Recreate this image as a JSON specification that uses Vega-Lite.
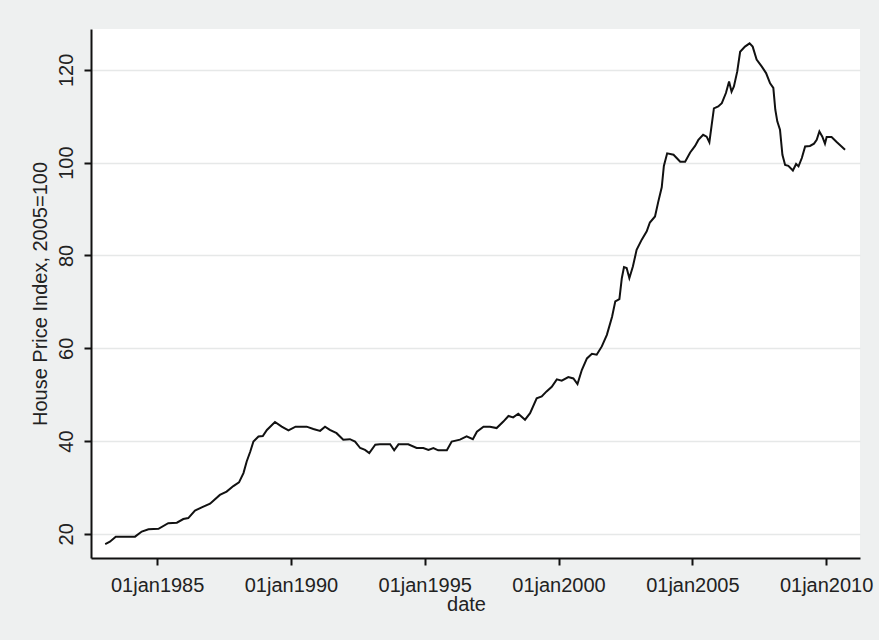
{
  "$schema": "https://vega.github.io/schema/vega-lite/v6.json",
  "width": 769,
  "height": 529,
  "autosize": {"type": "none"},
  "padding": {"left": 91, "top": 29, "right": 19, "bottom": 82},
  "background": "#eef0f0",
  "config": {
    "view": {"fill": "white", "stroke": null},
    "font": "Liberation Sans"
  },
  "data": {
    "values": [
      {"date": "1983/01/23", "hpi": 17.8},
      {"date": "1983/03/28", "hpi": 18.3},
      {"date": "1983/06/16", "hpi": 19.4},
      {"date": "1984/03/05", "hpi": 19.4},
      {"date": "1984/06/05", "hpi": 20.5},
      {"date": "1984/09/05", "hpi": 21.0},
      {"date": "1985/01/19", "hpi": 21.1},
      {"date": "1985/06/01", "hpi": 22.3},
      {"date": "1985/09/27", "hpi": 22.4},
      {"date": "1985/12/24", "hpi": 23.2},
      {"date": "1986/03/02", "hpi": 23.4},
      {"date": "1986/06/01", "hpi": 25.0},
      {"date": "1986/09/01", "hpi": 25.7},
      {"date": "1986/12/24", "hpi": 26.5},
      {"date": "1987/05/07", "hpi": 28.4},
      {"date": "1987/08/07", "hpi": 29.1},
      {"date": "1987/11/07", "hpi": 30.3},
      {"date": "1988/01/23", "hpi": 31.1},
      {"date": "1988/03/24", "hpi": 33.1},
      {"date": "1988/05/07", "hpi": 35.6},
      {"date": "1988/06/24", "hpi": 37.7},
      {"date": "1988/08/07", "hpi": 39.9},
      {"date": "1988/10/15", "hpi": 41.0},
      {"date": "1988/12/13", "hpi": 41.1},
      {"date": "1989/02/07", "hpi": 42.4},
      {"date": "1989/05/28", "hpi": 44.1},
      {"date": "1989/08/28", "hpi": 43.1},
      {"date": "1989/11/28", "hpi": 42.3},
      {"date": "1990/03/05", "hpi": 43.1},
      {"date": "1990/08/03", "hpi": 43.1},
      {"date": "1990/11/03", "hpi": 42.6},
      {"date": "1991/02/03", "hpi": 42.2},
      {"date": "1991/04/11", "hpi": 43.1},
      {"date": "1991/06/16", "hpi": 42.4},
      {"date": "1991/09/16", "hpi": 41.7},
      {"date": "1991/12/16", "hpi": 40.3},
      {"date": "1992/03/16", "hpi": 40.4},
      {"date": "1992/05/25", "hpi": 39.9},
      {"date": "1992/08/03", "hpi": 38.5},
      {"date": "1992/10/08", "hpi": 38.1},
      {"date": "1992/12/05", "hpi": 37.4},
      {"date": "1993/02/25", "hpi": 39.2},
      {"date": "1993/04/29", "hpi": 39.3},
      {"date": "1993/09/16", "hpi": 39.3},
      {"date": "1993/11/10", "hpi": 38.0},
      {"date": "1994/01/08", "hpi": 39.3},
      {"date": "1994/05/21", "hpi": 39.3},
      {"date": "1994/09/13", "hpi": 38.5},
      {"date": "1994/12/13", "hpi": 38.5},
      {"date": "1995/02/21", "hpi": 38.1},
      {"date": "1995/04/29", "hpi": 38.5},
      {"date": "1995/07/04", "hpi": 38.0},
      {"date": "1995/10/30", "hpi": 38.0},
      {"date": "1996/01/04", "hpi": 39.9},
      {"date": "1996/04/26", "hpi": 40.3},
      {"date": "1996/07/26", "hpi": 41.0},
      {"date": "1996/10/19", "hpi": 40.4},
      {"date": "1996/12/13", "hpi": 42.0},
      {"date": "1997/03/13", "hpi": 43.1},
      {"date": "1997/06/09", "hpi": 43.1},
      {"date": "1997/09/09", "hpi": 42.8},
      {"date": "1997/12/09", "hpi": 44.2},
      {"date": "1998/02/17", "hpi": 45.4},
      {"date": "1998/04/22", "hpi": 45.1},
      {"date": "1998/07/01", "hpi": 45.9},
      {"date": "1998/10/01", "hpi": 44.6},
      {"date": "1998/12/09", "hpi": 46.0},
      {"date": "1999/03/09", "hpi": 49.2},
      {"date": "1999/05/17", "hpi": 49.6},
      {"date": "1999/07/22", "hpi": 50.7},
      {"date": "1999/10/01", "hpi": 51.7},
      {"date": "1999/12/09", "hpi": 53.3},
      {"date": "2000/02/14", "hpi": 53.0},
      {"date": "2000/05/14", "hpi": 53.8},
      {"date": "2000/07/22", "hpi": 53.5},
      {"date": "2000/09/16", "hpi": 52.3},
      {"date": "2000/11/14", "hpi": 55.3},
      {"date": "2001/01/23", "hpi": 57.8},
      {"date": "2001/04/01", "hpi": 58.8},
      {"date": "2001/06/05", "hpi": 58.6},
      {"date": "2001/08/14", "hpi": 60.4},
      {"date": "2001/10/22", "hpi": 62.9},
      {"date": "2002/01/01", "hpi": 66.8},
      {"date": "2002/02/14", "hpi": 70.1},
      {"date": "2002/04/11", "hpi": 70.6},
      {"date": "2002/05/14", "hpi": 75.1},
      {"date": "2002/06/13", "hpi": 77.5},
      {"date": "2002/07/19", "hpi": 77.3},
      {"date": "2002/08/25", "hpi": 75.1},
      {"date": "2002/10/12", "hpi": 77.6},
      {"date": "2002/12/02", "hpi": 81.2},
      {"date": "2003/02/10", "hpi": 83.4},
      {"date": "2003/04/19", "hpi": 85.2},
      {"date": "2003/06/01", "hpi": 87.1},
      {"date": "2003/08/10", "hpi": 88.4},
      {"date": "2003/09/24", "hpi": 91.6},
      {"date": "2003/11/10", "hpi": 94.7},
      {"date": "2003/12/09", "hpi": 99.3},
      {"date": "2004/01/23", "hpi": 102.0},
      {"date": "2004/04/19", "hpi": 101.7},
      {"date": "2004/07/19", "hpi": 100.2},
      {"date": "2004/09/24", "hpi": 100.2},
      {"date": "2004/12/02", "hpi": 102.2},
      {"date": "2005/02/07", "hpi": 103.6},
      {"date": "2005/03/24", "hpi": 104.9},
      {"date": "2005/05/28", "hpi": 106.0},
      {"date": "2005/07/15", "hpi": 105.6},
      {"date": "2005/08/21", "hpi": 104.4},
      {"date": "2005/09/20", "hpi": 107.9},
      {"date": "2005/10/22", "hpi": 111.7},
      {"date": "2005/12/20", "hpi": 112.1},
      {"date": "2006/02/07", "hpi": 112.8},
      {"date": "2006/04/04", "hpi": 115.0},
      {"date": "2006/05/17", "hpi": 117.5},
      {"date": "2006/06/20", "hpi": 115.3},
      {"date": "2006/07/22", "hpi": 116.4},
      {"date": "2006/09/05", "hpi": 119.6},
      {"date": "2006/10/15", "hpi": 123.9},
      {"date": "2006/12/20", "hpi": 125.0},
      {"date": "2007/02/21", "hpi": 125.7},
      {"date": "2007/04/04", "hpi": 125.0},
      {"date": "2007/05/28", "hpi": 122.2},
      {"date": "2007/08/07", "hpi": 120.7},
      {"date": "2007/10/04", "hpi": 119.3},
      {"date": "2007/11/28", "hpi": 117.1},
      {"date": "2008/01/11", "hpi": 116.1},
      {"date": "2008/02/07", "hpi": 111.4},
      {"date": "2008/03/05", "hpi": 108.9},
      {"date": "2008/04/11", "hpi": 107.1},
      {"date": "2008/05/14", "hpi": 101.7},
      {"date": "2008/06/20", "hpi": 99.5},
      {"date": "2008/08/03", "hpi": 99.3},
      {"date": "2008/10/04", "hpi": 98.3},
      {"date": "2008/11/17", "hpi": 99.7},
      {"date": "2008/12/20", "hpi": 99.2},
      {"date": "2009/02/03", "hpi": 101.0},
      {"date": "2009/03/20", "hpi": 103.5},
      {"date": "2009/05/25", "hpi": 103.6},
      {"date": "2009/07/19", "hpi": 104.1},
      {"date": "2009/08/25", "hpi": 104.9},
      {"date": "2009/10/01", "hpi": 106.7},
      {"date": "2009/11/10", "hpi": 105.6},
      {"date": "2009/12/16", "hpi": 104.1},
      {"date": "2010/01/08", "hpi": 105.5},
      {"date": "2010/03/16", "hpi": 105.5},
      {"date": "2010/05/21", "hpi": 104.5},
      {"date": "2010/07/30", "hpi": 103.5},
      {"date": "2010/09/16", "hpi": 102.8}
    ]
  },
  "mark": {"type": "line", "color": "#111111", "strokeWidth": 2, "interpolate": "linear"},
  "encoding": {
    "x": {
      "field": "date",
      "type": "temporal",
      "title": "date",
      "scale": {
        "domain": [
          {"year": 1982, "month": 7, "date": 13},
          {"year": 2011, "month": 4, "date": 8}
        ],
        "nice": false
      },
      "axis": {
        "values": [
          {"year": 1985, "month": 1, "date": 1},
          {"year": 1990, "month": 1, "date": 1},
          {"year": 1995, "month": 1, "date": 1},
          {"year": 2000, "month": 1, "date": 1},
          {"year": 2005, "month": 1, "date": 1},
          {"year": 2010, "month": 1, "date": 1}
        ],
        "labelExpr": "'01jan' + timeFormat(datum.value, '%Y')",
        "grid": false,
        "domainColor": "#111111",
        "domainWidth": 2,
        "tickColor": "#111111",
        "tickWidth": 2,
        "tickSize": 7,
        "labelFontSize": 20,
        "labelColor": "#222222",
        "labelPadding": 10,
        "labelBaseline": "top",
        "labelFlush": false,
        "labelOverlap": false,
        "titleFontSize": 20,
        "titleFontWeight": "normal",
        "titleColor": "#222222",
        "titleX": 375,
        "titleY": 36,
        "titleAlign": "center",
        "titleBaseline": "top"
      }
    },
    "y": {
      "field": "hpi",
      "type": "quantitative",
      "title": "House Price Index, 2005=100",
      "scale": {"domain": [14.8, 128.8], "nice": false, "zero": false},
      "axis": {
        "values": [20, 40, 60, 80, 100, 120],
        "grid": true,
        "gridColor": "#e6e8e8",
        "gridWidth": 1.5,
        "domainColor": "#111111",
        "domainWidth": 2,
        "tickColor": "#111111",
        "tickWidth": 2,
        "tickSize": 7,
        "labelFontSize": 20,
        "labelColor": "#222222",
        "labelAngle": -90,
        "labelAlign": "center",
        "labelBaseline": "alphabetic",
        "labelPadding": 12,
        "labelFlush": false,
        "labelOverlap": false,
        "titleFontSize": 20,
        "titleFontWeight": "normal",
        "titleColor": "#222222",
        "titleAngle": -90,
        "titleAlign": "center",
        "titleBaseline": "middle",
        "titleX": -51,
        "titleY": 264.5
      }
    }
  }
}
